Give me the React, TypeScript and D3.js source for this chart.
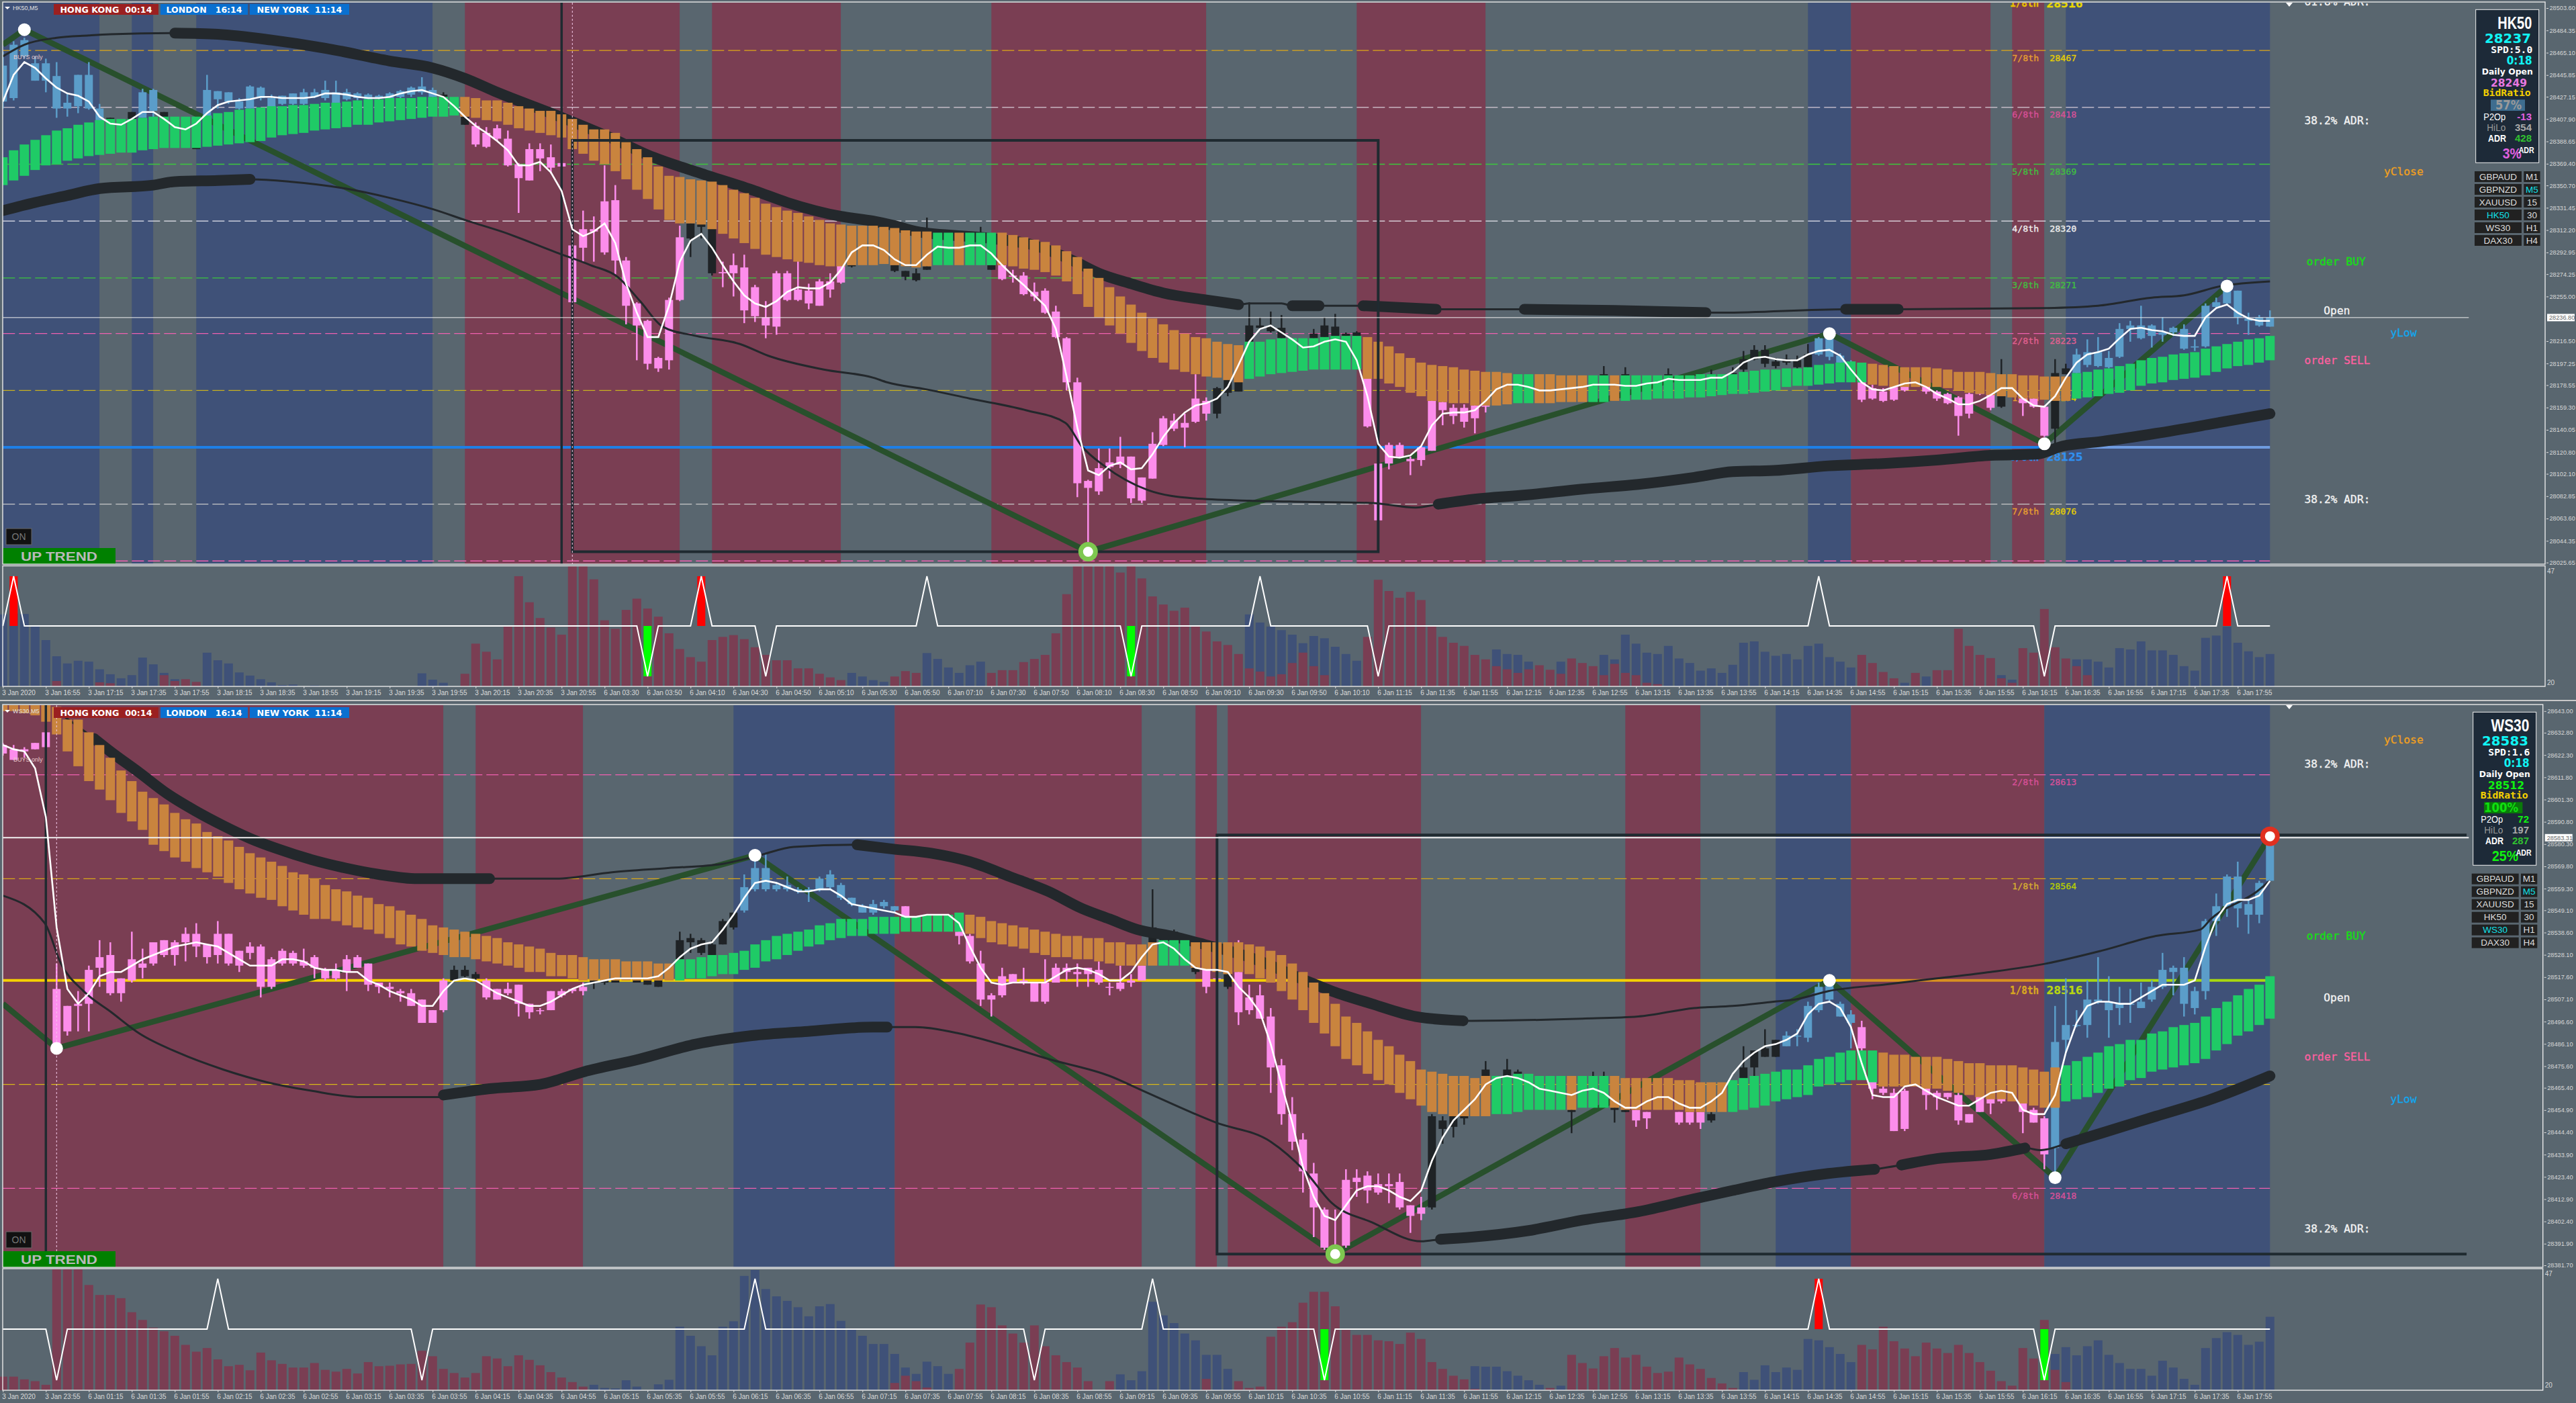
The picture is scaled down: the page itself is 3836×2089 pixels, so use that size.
import React, { useRef, useEffect } from 'react';
import * as d3 from 'd3';

// all prices below are stored as offset from 28000
const BASE = 28000;

const hkTimes = ['3 Jan 2020', '3 Jan 16:55', '3 Jan 17:15', '3 Jan 17:35', '3 Jan 17:55', '3 Jan 18:15', '3 Jan 18:35', '3 Jan 18:55', '3 Jan 19:15', '3 Jan 19:35', '3 Jan 19:55', '3 Jan 20:15', '3 Jan 20:35', '3 Jan 20:55', '6 Jan 03:30', '6 Jan 03:50', '6 Jan 04:10', '6 Jan 04:30', '6 Jan 04:50', '6 Jan 05:10', '6 Jan 05:30', '6 Jan 05:50', '6 Jan 07:10', '6 Jan 07:30', '6 Jan 07:50', '6 Jan 08:10', '6 Jan 08:30', '6 Jan 08:50', '6 Jan 09:10', '6 Jan 09:30', '6 Jan 09:50', '6 Jan 10:10', '6 Jan 11:15', '6 Jan 11:35', '6 Jan 11:55', '6 Jan 12:15', '6 Jan 12:35', '6 Jan 12:55', '6 Jan 13:15', '6 Jan 13:35', '6 Jan 13:55', '6 Jan 14:15', '6 Jan 14:35', '6 Jan 14:55', '6 Jan 15:15', '6 Jan 15:35', '6 Jan 15:55', '6 Jan 16:15', '6 Jan 16:35', '6 Jan 16:55', '6 Jan 17:15', '6 Jan 17:35', '6 Jan 17:55'];
const wsTimes = ['3 Jan 2020', '3 Jan 23:55', '6 Jan 01:15', '6 Jan 01:35', '6 Jan 01:55', '6 Jan 02:15', '6 Jan 02:35', '6 Jan 02:55', '6 Jan 03:15', '6 Jan 03:35', '6 Jan 03:55', '6 Jan 04:15', '6 Jan 04:35', '6 Jan 04:55', '6 Jan 05:15', '6 Jan 05:35', '6 Jan 05:55', '6 Jan 06:15', '6 Jan 06:35', '6 Jan 06:55', '6 Jan 07:15', '6 Jan 07:35', '6 Jan 07:55', '6 Jan 08:15', '6 Jan 08:35', '6 Jan 08:55', '6 Jan 09:15', '6 Jan 09:35', '6 Jan 09:55', '6 Jan 10:15', '6 Jan 10:35', '6 Jan 10:55', '6 Jan 11:15', '6 Jan 11:35', '6 Jan 11:55', '6 Jan 12:15', '6 Jan 12:35', '6 Jan 12:55', '6 Jan 13:15', '6 Jan 13:35', '6 Jan 13:55', '6 Jan 14:15', '6 Jan 14:35', '6 Jan 14:55', '6 Jan 15:15', '6 Jan 15:35', '6 Jan 15:55', '6 Jan 16:15', '6 Jan 16:35', '6 Jan 16:55', '6 Jan 17:15', '6 Jan 17:35', '6 Jan 17:55'];

const hkAxis = [28503.6, 28484.35, 28465.1, 28445.85, 28427.15, 28407.9, 28388.65, 28369.4, 28350.7, 28331.45, 28312.2, 28292.95, 28274.25, 28255.0, 28216.5, 28197.25, 28178.55, 28159.3, 28140.05, 28120.8, 28102.1, 28082.85, 28063.6, 28044.35, 28025.65];
const wsAxis = [28643.0, 28632.8, 28622.3, 28611.8, 28601.3, 28590.8, 28580.3, 28569.8, 28559.3, 28549.1, 28538.6, 28528.1, 28517.6, 28507.1, 28496.6, 28486.1, 28475.6, 28465.4, 28454.9, 28444.4, 28433.9, 28423.4, 28412.9, 28402.4, 28391.9, 28381.7];

// sessions: [from bar, to bar, kind]
const hkSessions = [[0, 9, 'b'], [9, 12, 'g'], [12, 14, 'b'], [14, 18, 'g'], [18, 40, 'b'], [40, 43, 'g'], [43, 63, 'r'], [63, 66, 'g'], [66, 78, 'r'], [78, 92, 'g'], [92, 112, 'r'], [112, 126, 'g'], [126, 138, 'r'], [138, 168, 'g'], [168, 172, 'b'], [172, 185, 'r'], [185, 187, 'g'], [187, 190, 'r'], [190, 192, 'g'], [192, 211, 'b']];
const wsSessions = [[0, 41, 'r'], [41, 44, 'g'], [44, 54, 'r'], [54, 68, 'g'], [68, 83, 'b'], [83, 106, 'r'], [106, 111, 'g'], [111, 113, 'r'], [113, 114, 'g'], [114, 132, 'r'], [132, 151, 'g'], [151, 158, 'r'], [158, 165, 'g'], [165, 172, 'b'], [172, 190, 'r'], [190, 211, 'b']];

const hkRibbonHigh = [
  375, 381, 386, 390, 394, 398, 400, 403, 405, 407, 408, 408, 408, 409, 410, 410, 410, 410, 410, 411,
  413, 414, 416, 417, 418, 419, 419, 420, 420, 421, 422, 422, 423, 424, 425, 425, 426, 426, 426, 427,
  427, 427, 427, 427, 426, 424, 424, 422, 419, 417, 415, 415, 412, 408, 403, 399, 399, 396, 388, 382,
  375, 367, 359, 358, 356, 355, 354, 351, 347, 344, 340, 335, 332, 329, 327, 324, 321, 318, 317, 316,
  316, 316, 315, 314, 312, 311, 311, 310, 310, 310, 310, 310, 310, 310, 308, 306, 304, 302, 299, 294,
  289, 279, 271, 263, 255, 248, 241, 236, 231, 226, 223, 220, 219, 216, 214, 213, 216, 216, 218, 219,
  219, 219, 219, 220, 221, 221, 221, 220, 216, 212, 206, 202, 198, 196, 195, 194, 192, 191, 190, 190,
  189, 188, 188, 188, 188, 187, 187, 187, 187, 187, 187, 187, 187, 187, 187, 187, 187, 187, 188, 188,
  188, 188, 190, 191, 192, 192, 193, 193, 194, 196, 197, 198, 199, 198, 197, 196, 195, 194, 194, 194,
  193, 192, 190, 190, 190, 189, 188, 188, 187, 187, 186, 186, 186, 189, 190, 192, 193, 195, 197, 200,
  202, 203, 205, 206, 207, 210, 212, 214, 216, 218, 219, 221];
const hkRibbonLow = [
  351, 355, 359, 364, 368, 369, 372, 374, 376, 377, 378, 379, 379, 381, 382, 383, 383, 383, 383, 384,
  385, 386, 387, 388, 389, 392, 394, 395, 396, 398, 399, 400, 401, 403, 403, 405, 406, 407, 408, 409,
  410, 410, 411, 410, 409, 407, 406, 403, 400, 398, 396, 394, 392, 382, 378, 372, 369, 363, 356, 347,
  339, 330, 321, 318, 318, 317, 313, 309, 305, 301, 296, 291, 289, 287, 285, 284, 282, 281, 281, 282,
  282, 282, 283, 282, 281, 280, 281, 282, 282, 282, 282, 282, 282, 282, 281, 279, 278, 276, 273, 268,
  257, 246, 237, 230, 223, 215, 208, 202, 198, 192, 190, 188, 186, 185, 183, 181, 184, 186, 188, 189,
  190, 191, 192, 192, 192, 192, 192, 184, 184, 180, 177, 172, 169, 165, 164, 163, 163, 161, 161, 161,
  162, 163, 163, 163, 163, 164, 164, 164, 164, 164, 165, 165, 166, 166, 167, 167, 167, 168, 168, 169,
  170, 171, 171, 172, 173, 174, 177, 178, 178, 179, 180, 181, 181, 181, 179, 178, 177, 177, 177, 177,
  177, 176, 174, 172, 171, 170, 169, 168, 167, 167, 166, 165, 165, 167, 168, 169, 171, 172, 174, 178,
  180, 181, 183, 184, 185, 187, 190, 193, 195, 196, 198, 200];
const hkRibbonGreen = [[0, 42], [87, 88], [90, 92], [116, 126], [141, 142], [148, 149], [151, 173], [193, 211]];

const wsRibbonHigh = [
  646, 646, 646, 646, 646, 645, 639, 639, 633, 627, 621, 615, 610, 605, 602, 599, 595, 592, 590, 586,
  584, 582, 579, 576, 574, 572, 570, 567, 566, 564, 561, 559, 558, 556, 555, 552, 551, 549, 547, 545,
  542, 541, 540, 539, 538, 537, 536, 534, 533, 532, 531, 529, 528, 528, 527, 526, 526, 526, 525, 525,
  525, 524, 524, 526, 526, 527, 528, 528, 529, 530, 533, 535, 537, 538, 539, 540, 542, 543, 545, 545,
  545, 546, 546, 546, 546, 546, 547, 547, 547, 548, 547, 546, 544, 543, 542, 541, 540, 539, 538, 537,
  537, 536, 536, 534, 534, 533, 533, 534, 535, 535, 535, 534, 534, 534, 534, 534, 533, 532, 530, 528,
  524, 520, 515, 510, 505, 499, 496, 492, 488, 485, 481, 478, 474, 473, 472, 471, 471, 470, 471, 471,
  471, 472, 472, 471, 471, 471, 471, 471, 471, 471, 471, 470, 470, 470, 470, 470, 469, 469, 468, 468,
  468, 469, 470, 471, 472, 473, 474, 474, 476, 479, 480, 482, 483, 483, 483, 482, 481, 481, 480, 480,
  480, 479, 478, 477, 477, 476, 476, 476, 475, 474, 473, 475, 476, 478, 480, 482, 485, 486, 488, 488,
  491, 492, 494, 495, 496, 499, 503, 506, 509, 512, 514, 518];
const wsRibbonLow = [
  643, 643, 642, 641, 638, 632, 624, 617, 610, 606, 601, 595, 591, 587, 580, 577, 574, 572, 569, 567,
  565, 562, 559, 557, 555, 554, 551, 549, 547, 545, 545, 544, 542, 541, 540, 538, 536, 533, 532, 530,
  529, 528, 527, 527, 526, 525, 524, 523, 522, 520, 520, 518, 518, 517, 516, 516, 516, 516, 516, 516,
  516, 516, 516, 516, 517, 517, 518, 519, 519, 521, 522, 525, 526, 528, 530, 532, 533, 535, 536, 537,
  537, 538, 538, 538, 539, 539, 539, 539, 539, 539, 538, 536, 534, 533, 532, 531, 529, 528, 527, 527,
  526, 526, 525, 524, 523, 523, 523, 523, 523, 523, 523, 522, 521, 520, 519, 520, 519, 517, 515, 511,
  507, 502, 496, 491, 485, 479, 476, 472, 469, 467, 463, 460, 457, 454, 453, 452, 452, 452, 452, 453,
  453, 454, 455, 455, 455, 455, 455, 456, 456, 456, 456, 455, 455, 455, 455, 455, 455, 454, 454, 454,
  454, 454, 455, 456, 457, 459, 460, 461, 462, 466, 467, 468, 469, 469, 468, 466, 466, 466, 466, 465,
  465, 464, 463, 462, 461, 460, 460, 459, 458, 457, 456, 456, 459, 460, 461, 463, 465, 466, 469, 470,
  473, 474, 475, 476, 477, 479, 483, 486, 490, 492, 495, 498];
const wsRibbonGreen = [[63, 89], [108, 110], [139, 145], [147, 149], [161, 174], [192, 211]];

// smoothed close, one value per bar
const hkSmooth = [
  423, 446, 457, 452, 443, 435, 430, 428, 423, 410, 404, 403, 408, 414, 414, 408, 401, 399, 404, 413,
  420, 423, 424, 425, 427, 427, 426, 426, 426, 427, 430, 430, 429, 427, 426, 426, 427, 430, 432, 433,
  430, 427, 419, 410, 402, 396, 389, 381, 368, 368, 371, 362, 346, 313, 307, 311, 318, 301, 266, 241,
  220, 220, 247, 285, 303, 309, 297, 282, 268, 256, 249, 246, 251, 259, 263, 262, 262, 267, 278, 293,
  299, 299, 295, 287, 282, 282, 291, 298, 297, 297, 299, 299, 292, 282, 273, 265, 256, 247, 227, 186,
  142, 105, 101, 109, 112, 106, 107, 119, 134, 146, 155, 161, 163, 167, 177, 196, 216, 227, 230, 224,
  218, 211, 212, 216, 218, 216, 200, 169, 128, 117, 116, 118, 126, 144, 154, 155, 155, 157, 165, 175,
  179, 179, 177, 174, 174, 175, 176, 177, 179, 179, 179, 178, 178, 180, 181, 184, 183, 183, 183, 185,
  185, 190, 198, 202, 203, 201, 200, 200, 205, 208, 209, 204, 192, 181, 175, 174, 177, 180, 181, 177,
  171, 167, 162, 162, 165, 170, 176, 176, 167, 161, 160, 169, 185, 198, 205, 207, 210, 219, 227, 228,
  226, 225, 222, 221, 221, 237, 245, 248, 241, 236, 234, 234];
const wsSmooth = [
  627, 625, 624, 616, 593, 541, 512, 505, 510, 518, 520, 520, 523, 526, 528, 530, 532, 533, 534, 533,
  532, 529, 526, 523, 523, 523, 526, 526, 525, 522, 521, 521, 520, 520, 516, 514, 511, 509, 507, 504,
  504, 511, 516, 517, 516, 513, 510, 508, 506, 504, 504, 506, 509, 512, 514, 515, 516, 517, 517, 517,
  517, 518, 522, 527, 531, 533, 534, 540, 547, 555, 562, 563, 562, 560, 558, 558, 559, 559, 556, 552,
  551, 550, 549, 548, 546, 546, 547, 547, 547, 543, 532, 522, 515, 514, 515, 515, 515, 515, 518, 521,
  522, 521, 519, 516, 516, 520, 527, 533, 534, 531, 526, 522, 521, 521, 520, 513, 508, 501, 486, 467,
  449, 428, 414, 405, 403, 410, 417, 419, 419, 417, 414, 412, 417, 431, 442, 450, 455, 460, 467, 470,
  471, 470, 468, 465, 464, 463, 462, 464, 465, 463, 459, 456, 456, 459, 461, 461, 458, 456, 456, 459,
  463, 472, 478, 482, 485, 486, 488, 491, 500, 505, 506, 503, 494, 477, 462, 461, 461, 466, 467, 464,
  461, 459, 457, 457, 460, 463, 464, 463, 455, 453, 453, 462, 482, 496, 504, 506, 506, 505, 505, 508,
  511, 514, 514, 514, 516, 532, 545, 552, 554, 554, 556, 563];

// candles: [bar, high, body top, body bottom, low]
const hkBull = [[0, 466, 454, 423, 417], [1, 475, 472, 426, 424], [2, 478, 476, 462, 460], [3, 462, 456, 441, 441], [4, 460, 456, 441, 431], [5, 457, 445, 417, 409], [6, 430, 422, 417, 410], [7, 446, 446, 419, 413], [8, 457, 446, 417, 416], [9, 421, 417, 407, 406], [13, 434, 431, 409, 409], [14, 434, 433, 415, 409], [19, 446, 433, 410, 406], [20, 432, 432, 425, 417], [21, 431, 431, 423, 421], [22, 426, 423, 417, 416], [23, 437, 436, 417, 417], [24, 436, 435, 426, 424], [25, 429, 426, 418, 417], [26, 428, 428, 421, 420], [27, 430, 430, 421, 420], [28, 434, 431, 421, 420], [29, 434, 431, 427, 426], [30, 441, 433, 426, 424], [31, 441, 431, 422, 421], [32, 434, 431, 425, 424], [33, 431, 430, 426, 424], [34, 430, 429, 425, 424], [35, 429, 428, 426, 425], [36, 431, 430, 426, 425], [37, 433, 432, 427, 426], [38, 436, 435, 429, 427], [39, 444, 436, 431, 429], [40, 435, 433, 427, 426],
  [169, 220, 219, 205, 204], [170, 221, 220, 203, 200], [171, 206, 204, 198, 198], [172, 200, 198, 193, 192], [193, 210, 205, 189, 188], [194, 218, 207, 196, 194], [195, 220, 207, 195, 194], [196, 208, 202, 194, 193], [197, 232, 227, 203, 202], [198, 234, 230, 227, 216], [199, 247, 230, 219, 218], [200, 231, 230, 221, 211], [201, 237, 224, 222, 216], [202, 229, 228, 224, 221], [203, 231, 227, 210, 209], [204, 218, 212, 211, 208], [205, 249, 247, 212, 211], [206, 254, 250, 246, 245], [207, 262, 262, 249, 247], [208, 260, 260, 237, 231], [209, 241, 236, 234, 222], [210, 239, 237, 230, 229], [211, 243, 237, 229, 229]];
const hkFlat = [[10, 409, 409, 406, 405], [12, 414, 414, 408, 408], [15, 414, 414, 409, 409], [18, 386, 386, 382, 382], [41, 431, 429, 427, 426], [43, 412, 410, 403, 403], [64, 318, 318, 305, 289], [65, 318, 318, 315, 305], [66, 316, 316, 275, 273], [79, 282, 282, 281, 280], [83, 282, 282, 277, 276], [84, 277, 277, 272, 269], [85, 279, 275, 269, 268], [86, 323, 281, 278, 278], [87, 313, 312, 311, 311], [91, 315, 310, 309, 309], [92, 282, 282, 278, 278], [113, 177, 176, 154, 150], [114, 183, 183, 172, 169], [115, 183, 183, 173, 173], [116, 250, 230, 216, 215], [117, 237, 230, 228, 226], [118, 242, 229, 225, 224], [119, 239, 228, 219, 218], [122, 227, 223, 219, 219], [123, 237, 230, 220, 219], [124, 240, 229, 220, 219], [125, 224, 223, 221, 221], [126, 225, 224, 221, 221], [149, 195, 188, 185, 185], [151, 194, 188, 185, 185], [155, 193, 188, 185, 185], [159, 192, 188, 185, 185], [161, 194, 189, 186, 185], [162, 208, 201, 192, 186], [163, 213, 209, 201, 200], [164, 213, 209, 197, 194], [165, 202, 199, 195, 193], [166, 205, 201, 198, 196], [167, 204, 200, 194, 193], [168, 214, 205, 194, 193], [186, 201, 171, 160, 159], [191, 201, 189, 141, 128], [192, 197, 193, 188, 188]];
const hkBear = [[44, 405, 402, 386, 384], [45, 401, 396, 384, 383], [46, 403, 400, 391, 389], [47, 398, 391, 368, 367], [48, 370, 369, 357, 327], [49, 387, 382, 355, 355], [50, 387, 382, 374, 363], [51, 386, 375, 366, 361], [52, 370, 370, 367, 366], [53, 299, 299, 250, 250], [54, 329, 313, 297, 285], [55, 324, 313, 311, 285], [56, 368, 337, 293, 291], [57, 351, 338, 286, 274], [58, 289, 286, 247, 231], [59, 250, 249, 230, 200], [60, 235, 234, 197, 192], [61, 203, 202, 193, 190], [62, 254, 252, 200, 192], [63, 316, 306, 252, 251], [67, 285, 276, 275, 263], [68, 292, 282, 275, 255], [69, 291, 280, 243, 232], [70, 265, 263, 238, 233], [71, 251, 237, 230, 219], [72, 277, 275, 229, 222], [73, 277, 275, 252, 251], [74, 286, 261, 252, 251], [75, 266, 260, 249, 244], [76, 270, 268, 247, 247], [77, 275, 268, 261, 254], [78, 283, 282, 267, 266],
  [93, 282, 282, 270, 269], [94, 278, 273, 272, 267], [95, 276, 273, 257, 256], [96, 267, 259, 255, 251], [97, 262, 260, 241, 240], [98, 247, 242, 220, 219], [99, 220, 219, 181, 174], [100, 185, 181, 94, 82], [101, 97, 96, 90, 43], [102, 124, 107, 87, 84], [103, 124, 112, 108, 98], [104, 134, 117, 110, 107], [105, 117, 117, 81, 77], [106, 99, 99, 79, 77], [107, 138, 128, 98, 98], [108, 152, 150, 127, 126], [109, 154, 148, 141, 139], [110, 154, 146, 142, 125], [111, 188, 167, 147, 146], [112, 168, 165, 154, 148], [127, 192, 190, 143, 142], [128, 111, 111, 62, 62], [129, 129, 127, 111, 106], [130, 129, 127, 117, 116], [131, 117, 115, 113, 101], [132, 126, 125, 114, 109], [133, 166, 165, 122, 122], [134, 167, 164, 157, 144], [135, 162, 159, 152, 145], [136, 162, 159, 147, 142], [137, 163, 161, 150, 137], [138, 162, 161, 160, 155],
  [173, 183, 181, 166, 164], [174, 179, 176, 167, 166], [175, 176, 173, 165, 164], [176, 178, 177, 166, 165], [177, 181, 179, 174, 173], [179, 179, 178, 173, 171], [180, 174, 173, 167, 165], [181, 172, 171, 163, 162], [182, 169, 168, 152, 135], [183, 173, 171, 154, 150], [184, 173, 172, 171, 170], [185, 172, 171, 159, 157], [188, 171, 169, 163, 152], [189, 169, 167, 160, 159], [190, 161, 160, 135, 134]];

const wsBull = [[69, 566, 560, 549, 548], [70, 575, 569, 559, 558], [71, 576, 569, 559, 558], [72, 562, 561, 559, 558], [73, 565, 561, 559, 558], [74, 560, 559, 558, 557], [75, 560, 559, 558, 553], [76, 565, 564, 559, 558], [77, 568, 566, 560, 559], [78, 562, 561, 555, 554], [79, 555, 555, 552, 551], [80, 552, 551, 548, 548], [81, 554, 552, 548, 547], [82, 554, 553, 551, 550], [83, 551, 551, 549, 548], [166, 492, 490, 485, 485], [167, 493, 490, 490, 485], [168, 506, 504, 489, 487], [169, 515, 513, 502, 501], [170, 517, 515, 507, 506], [171, 506, 505, 499, 499], [172, 502, 500, 496, 484], [191, 504, 487, 437, 426], [192, 517, 495, 488, 482], [193, 502, 495, 495, 494], [194, 516, 507, 495, 489], [195, 527, 507, 506, 505], [196, 518, 506, 502, 489], [197, 513, 505, 503, 495], [198, 512, 505, 505, 496], [199, 515, 506, 503, 503], [200, 516, 513, 507, 506], [201, 529, 521, 513, 512], [202, 523, 522, 520, 509], [203, 527, 522, 505, 499], [204, 513, 511, 503, 500], [205, 545, 544, 511, 507], [206, 557, 551, 544, 537], [207, 566, 565, 551, 546], [208, 572, 565, 550, 541], [209, 554, 552, 547, 538], [210, 563, 562, 547, 543], [211, 584, 583, 563, 563]];
const wsFlat = [[42, 523, 521, 516, 516], [43, 523, 521, 518, 517], [44, 520, 519, 517, 516], [55, 517, 516, 515, 512], [56, 516, 516, 515, 514], [57, 516, 516, 515, 515], [59, 516, 516, 515, 515], [60, 516, 516, 514, 514], [61, 516, 516, 513, 513], [63, 539, 535, 526, 525], [64, 538, 536, 534, 529], [65, 536, 535, 529, 528], [66, 535, 533, 528, 527], [67, 545, 544, 533, 533], [68, 548, 548, 541, 540], [107, 559, 541, 534, 534], [108, 539, 539, 534, 534], [109, 540, 539, 535, 535], [111, 523, 522, 520, 519], [114, 520, 519, 513, 512], [133, 453, 452, 409, 408], [134, 452, 450, 446, 439], [135, 453, 452, 447, 442], [136, 452, 452, 451, 448], [138, 478, 474, 471, 471], [140, 479, 474, 471, 471], [141, 474, 473, 471, 471], [146, 471, 455, 454, 444], [148, 473, 471, 470, 469], [149, 473, 471, 470, 469], [150, 471, 456, 455, 449], [151, 470, 455, 454, 454], [159, 454, 453, 450, 449], [162, 485, 475, 469, 469], [163, 483, 483, 475, 469], [164, 493, 484, 480, 480], [165, 488, 488, 480, 480]];
const wsBear = [[0, 628, 627, 623, 622], [1, 627, 625, 620, 620], [2, 626, 625, 624, 621], [3, 628, 628, 625, 625], [4, 633, 633, 626, 626], [5, 524, 512, 486, 485], [6, 504, 504, 492, 490], [7, 511, 505, 504, 492], [8, 523, 521, 505, 492], [9, 535, 527, 522, 513], [10, 534, 528, 510, 509], [11, 517, 517, 510, 506], [12, 539, 526, 516, 515], [13, 531, 524, 522, 517], [14, 534, 534, 524, 523], [15, 535, 535, 528, 527], [16, 535, 534, 528, 523], [17, 541, 538, 534, 525], [18, 543, 538, 532, 527], [19, 533, 533, 527, 524], [20, 544, 538, 528, 524], [21, 538, 538, 524, 523], [22, 530, 530, 523, 520], [23, 534, 532, 529, 526], [24, 533, 532, 513, 508], [25, 527, 526, 513, 512], [26, 531, 530, 524, 523], [27, 530, 529, 524, 523], [28, 531, 525, 523, 522], [29, 528, 527, 522, 517], [30, 522, 521, 517, 516], [31, 524, 521, 517, 516], [32, 528, 526, 520, 511], [33, 528, 527, 522, 522], [34, 524, 524, 514, 511], [35, 515, 515, 513, 510], [36, 515, 513, 512, 508], [37, 512, 511, 510, 506], [38, 512, 510, 504, 504], [39, 507, 507, 496, 496], [40, 502, 502, 496, 496], [41, 517, 516, 502, 501], [45, 517, 516, 508, 507], [46, 512, 512, 507, 507], [47, 515, 512, 510, 509], [48, 514, 514, 505, 499], [49, 505, 505, 501, 498], [50, 503, 502, 502, 500], [51, 511, 511, 502, 502], [52, 512, 511, 509, 508], [53, 512, 512, 511, 510], [54, 515, 513, 511, 509],
  [84, 551, 551, 546, 546], [89, 539, 539, 537, 533], [90, 538, 537, 525, 524], [91, 530, 524, 507, 504], [92, 510, 509, 507, 499], [93, 522, 518, 509, 508], [94, 519, 519, 515, 515], [95, 522, 516, 515, 514], [96, 515, 515, 506, 506], [97, 526, 515, 506, 505], [98, 524, 522, 515, 515], [99, 524, 522, 520, 516], [100, 524, 520, 519, 513], [101, 522, 522, 519, 513], [102, 525, 521, 515, 514], [103, 515, 513, 513, 509], [104, 523, 515, 512, 511], [105, 519, 516, 515, 513], [106, 523, 523, 516, 516], [112, 522, 522, 513, 510], [113, 519, 517, 517, 513], [115, 535, 520, 501, 495], [116, 514, 508, 502, 500], [117, 514, 509, 498, 498], [118, 503, 499, 475, 463], [119, 479, 476, 453, 448], [120, 461, 453, 440, 436], [121, 444, 441, 426, 416], [122, 430, 425, 409, 395], [123, 409, 408, 390, 389], [124, 408, 391, 390, 389], [125, 427, 422, 391, 390], [126, 427, 423, 421, 414], [127, 426, 424, 417, 411], [128, 425, 420, 416, 415], [129, 425, 420, 419, 411], [130, 425, 421, 409, 408], [131, 410, 410, 405, 397], [132, 414, 409, 406, 403],
  [152, 455, 455, 450, 447], [153, 454, 454, 451, 446], [156, 454, 454, 449, 448], [157, 454, 454, 449, 448], [158, 454, 454, 449, 446], [173, 497, 494, 484, 478], [174, 469, 469, 465, 460], [175, 467, 465, 463, 462], [176, 465, 463, 445, 445], [177, 465, 464, 446, 445], [179, 467, 465, 462, 455], [180, 464, 463, 461, 455], [181, 463, 463, 461, 460], [182, 463, 462, 450, 448], [183, 453, 453, 449, 449], [184, 462, 462, 454, 454], [185, 461, 461, 458, 453], [186, 462, 461, 459, 458], [188, 461, 460, 454, 444], [189, 456, 455, 449, 449], [190, 452, 451, 434, 427]];

// moving averages: [bar, price]; thick stretches are bar ranges
const hkUpperMa = [[0, 462], [2, 472], [5, 478], [8, 480], [10, 481], [16, 482], [20, 481], [25, 476], [30, 469], [36, 458], [40, 452], [43, 443], [46, 431], [51, 413], [57, 390], [60, 377], [65, 361], [70, 346], [73, 336], [78, 324], [81, 320], [83, 316], [85, 311], [92, 305], [96, 299], [100, 284], [102, 275], [105, 266], [108, 258], [112, 252], [115, 248], [116, 249], [119, 249], [120, 247], [122.5, 247], [126.6, 247], [133.4, 244], [141.6, 244], [150, 243], [158.5, 241], [160, 241], [171.5, 244], [176.4, 244], [190, 245], [195, 247], [200, 254], [203, 256], [206.5, 264], [211, 268]];
const hkUpperThick = [[16, 115], [120, 122.5], [126.6, 133.4], [141.6, 158.5], [171.5, 176.4]];
const hkLowerMa = [[0, 329], [3, 336], [6, 342], [9, 348], [14, 351], [16, 354], [20, 355], [23, 356], [26.7, 354], [31.9, 348], [36, 340], [40.1, 330], [43.3, 320], [46.4, 311], [51.5, 293], [54.7, 282], [57.2, 272], [59.3, 251], [61.4, 229], [64.5, 221], [68.6, 214], [71.2, 204], [76.4, 192], [81, 185], [82.3, 181], [85.9, 175], [90, 167], [95.2, 157], [98.9, 146], [100.4, 126], [102.5, 109], [106.6, 88], [110.8, 81], [116, 79], [121.2, 78], [127.4, 77], [131.5, 73], [133.6, 76], [136.7, 80], [141.9, 84], [147, 89], [152.2, 93], [157.4, 99], [161, 104], [164.8, 105], [169.9, 109], [175, 111], [180, 114], [185, 118], [189.2, 119], [191.7, 126], [195.3, 130], [200.4, 137], [205.5, 145], [211, 154]];
const hkLowerThick = [[0, 23], [133.6, 211]];
const wsUpperMa = [[5, 643], [8.5, 630], [10, 624], [12.7, 614], [15.3, 604], [17.9, 596], [20.5, 589], [23, 583], [25.6, 578], [28.7, 573], [31.9, 569], [35, 566], [38.6, 564], [41.2, 564], [45.3, 564], [51.5, 564], [56.7, 567], [61.9, 569], [67, 571], [70.4, 575], [73.6, 579], [79.5, 580], [82.8, 578], [86.4, 576], [90, 572], [93.7, 565], [97.3, 558], [100.4, 550], [103, 545], [105.6, 540], [108.7, 537], [111.8, 533], [116, 527], [121.7, 515], [123.7, 511], [127.4, 505], [131.5, 499], [135.9, 497], [136.7, 497], [147, 498], [152.2, 499], [157.4, 503], [161, 504], [164.8, 506], [166.8, 507], [169.9, 511], [175, 514], [180, 517], [185, 520], [190.2, 524], [195.3, 530], [200.4, 537], [204.5, 540], [205.5, 545], [209.8, 558], [211, 563]];
const wsUpperThick = [[8.5, 45.3], [79.5, 135.9]];
const wsLowerMa = [[0, 556], [3.9, 543], [5.4, 524], [7.5, 511], [10.1, 501], [12.7, 491], [16.3, 482], [20.5, 474], [24.6, 468], [28.7, 464], [33.4, 461], [40.7, 461], [41, 462], [45.3, 465], [50, 467], [54.1, 473], [59.3, 479], [64.5, 486], [69.7, 490], [74.9, 492], [81, 494], [82.3, 494], [84.9, 494], [89, 491], [92.1, 487], [97.3, 479], [103, 471], [106.1, 464], [112.9, 449], [118, 440], [121.2, 426], [123.7, 411], [127.4, 402], [132, 393], [133.8, 394], [136.7, 395], [141.9, 398], [147, 403], [152.2, 407], [157.4, 413], [161, 417], [164.8, 421], [169.9, 425], [174.2, 427], [176.7, 429], [180, 432], [185, 434], [188.2, 437], [189.7, 436], [192, 439], [195.3, 444], [200.4, 452], [205.5, 460], [211, 471]];
const wsLowerThick = [[41, 82.3], [133.8, 174.2], [176.7, 188.2], [192, 211]];

const hkZigzag = [[0, 472], [2, 485], [101, 35], [170, 223], [190, 128], [207, 264]];
const wsZigzag = [[0, 505], [5, 484], [70, 575], [124, 387], [170, 516], [191, 423], [211, 584]];
// swing markers: [bar, price, kind]
const hkSwings = [[2, 485, 'w'], [101, 35, 'g'], [170, 223, 'w'], [190, 128, 'w'], [207, 264, 'w']];
const wsSwings = [[5, 484, 'w'], [70, 575, 'w'], [124, 387, 'g'], [170, 516, 'w'], [191, 423, 'w'], [211, 584, 'r']];

// volume histogram
const hkVolBuy = [
  160, 162, 161, 133, 103, 67, 51, 57, 55, 38, 27, 18, 25, 64, 49, 30, 16, 0, 0, 75,
  58, 51, 31, 24, 16, 9, 3, 4, 0, 2, 0, 0, 0, 0, 0, 0, 0, 0, 0, 29,
  15, 8, 0, 0, 0, 0, 0, 0, 0, 0, 0, 0, 0, 0, 0, 0, 0, 0, 0, 0,
  0, 0, 0, 0, 0, 0, 0, 0, 0, 0, 0, 0, 0, 0, 0, 0, 0, 0, 0, 30,
  22, 14, 10, 0, 0, 0, 74, 61, 42, 30, 47, 55, 0, 0, 0, 0, 0, 0, 0, 0,
  0, 0, 0, 0, 0, 0, 0, 0, 0, 0, 0, 0, 0, 0, 0, 0, 160, 142, 133, 125,
  115, 96, 112, 107, 88, 72, 57, 0, 0, 0, 0, 0, 0, 0, 0, 0, 0, 0, 0, 82,
  72, 70, 55, 0, 0, 55, 0, 0, 0, 70, 60, 115, 95, 75, 72, 90, 62, 52, 35, 40,
  30, 48, 97, 100, 77, 68, 72, 60, 90, 95, 65, 55, 42, 0, 0, 0, 0, 8, 0, 22,
  0, 0, 0, 0, 0, 0, 25, 15, 0, 0, 0, 0, 0, 60, 60, 55, 42, 85, 82, 100,
  80, 80, 70, 45, 35, 108, 113, 133, 97, 78, 65, 72];
const hkVolSell = [
  0, 0, 0, 0, 0, 12, 0, 0, 0, 9, 7, 1, 0, 0, 0, 25, 12, 16, 10, 0,
  0, 0, 0, 0, 0, 0, 0, 0, 0, 0, 0, 0, 0, 0, 0, 0, 0, 0, 0, 0,
  0, 0, 0, 28, 95, 77, 60, 133, 245, 187, 152, 131, 115, 267, 267, 238, 147, 128, 170, 195,
  173, 155, 118, 83, 65, 55, 103, 110, 114, 105, 87, 70, 58, 58, 40, 40, 28, 20, 14, 0,
  0, 0, 0, 22, 34, 30, 0, 0, 0, 0, 0, 0, 30, 36, 36, 54, 61, 70, 118, 205,
  267, 267, 267, 267, 253, 267, 240, 200, 182, 168, 175, 133, 122, 100, 92, 72, 40, 33, 22, 27,
  52, 75, 45, 25, 0, 0, 0, 110, 237, 212, 197, 210, 192, 135, 110, 97, 90, 70, 60, 45,
  38, 30, 38, 47, 37, 28, 62, 52, 45, 25, 50, 30, 25, 8, 5, 0, 0, 0, 0, 0,
  0, 0, 0, 0, 0, 0, 0, 0, 0, 0, 0, 0, 0, 70, 52, 32, 18, 0, 30, 0,
  36, 36, 128, 90, 70, 63, 18, 8, 85, 75, 172, 87, 62, 45, 25, 0, 0, 0, 0, 0,
  0, 0, 0, 0, 0, 0, 0, 0, 0, 0, 0, 0];
const wsVolBuy = [
  0, 0, 0, 0, 0, 0, 0, 0, 0, 0, 0, 0, 0, 0, 0, 0, 0, 0, 0, 0,
  0, 0, 0, 0, 0, 0, 0, 0, 0, 0, 0, 0, 0, 0, 0, 0, 0, 0, 0, 0,
  0, 0, 0, 0, 0, 0, 0, 0, 0, 0, 0, 0, 0, 0, 0, 12, 5, 4, 22, 8,
  0, 13, 23, 140, 120, 97, 77, 140, 152, 252, 265, 223, 207, 197, 183, 163, 185, 190, 153, 135,
  120, 102, 102, 80, 50, 36, 63, 53, 36, 0, 0, 0, 0, 0, 0, 0, 0, 0, 0, 0,
  0, 0, 0, 0, 35, 22, 42, 195, 165, 148, 125, 110, 78, 78, 47, 0, 0, 0, 0, 0,
  0, 0, 0, 0, 0, 0, 0, 0, 0, 0, 0, 0, 0, 0, 0, 0, 0, 53, 52, 52,
  42, 32, 22, 12, 0, 10, 0, 0, 0, 0, 0, 0, 0, 0, 0, 0, 0, 0, 0, 0,
  0, 0, 40, 23, 55, 40, 50, 45, 113, 110, 95, 80, 62, 0, 0, 0, 0, 0, 0, 0,
  0, 0, 0, 0, 0, 0, 0, 0, 0, 0, 0, 80, 95, 77, 97, 110, 78, 60, 47, 47,
  32, 65, 50, 25, 12, 93, 115, 128, 122, 100, 107, 162];
const wsVolSell = [
  30, 30, 24, 20, 12, 267, 267, 267, 232, 210, 210, 203, 172, 155, 138, 130, 120, 100, 85, 93,
  68, 53, 56, 44, 83, 66, 58, 50, 50, 60, 45, 41, 47, 37, 62, 53, 54, 57, 58, 87,
  75, 47, 38, 28, 38, 75, 70, 53, 77, 67, 55, 40, 28, 18, 8, 0, 0, 0, 0, 0,
  0, 0, 0, 0, 0, 0, 0, 0, 0, 0, 0, 0, 0, 0, 0, 0, 0, 0, 0, 0,
  0, 0, 0, 16, 32, 20, 6, 0, 0, 47, 105, 189, 183, 143, 125, 105, 143, 97, 77, 62,
  50, 20, 0, 20, 0, 0, 0, 0, 0, 0, 0, 0, 25, 0, 0, 20, 5, 8, 118, 140,
  150, 193, 217, 217, 185, 133, 122, 122, 110, 108, 102, 127, 113, 62, 47, 32, 24, 3, 0, 0,
  0, 0, 0, 0, 5, 0, 78, 60, 48, 75, 93, 72, 78, 52, 38, 41, 72, 57, 47, 27,
  15, 5, 0, 0, 0, 0, 0, 0, 0, 0, 0, 0, 0, 100, 90, 140, 108, 92, 75, 105,
  92, 82, 100, 82, 62, 43, 20, 10, 93, 70, 155, 45, 18, 0, 0, 0, 0, 0, 0, 0,
  0, 0, 0, 0, 0, 0, 0, 0, 0, 0, 0, 0];

const hkSpikesUp = [1, 65, 86, 117, 169, 207];
const hkSpikesDown = [60, 71, 105, 128, 190];
const hkBlockRed = [1, 65, 207];
const hkBlockGreen = [60, 105];
const wsSpikesUp = [20, 70, 107, 169];
const wsSpikesDown = [5, 39, 96, 123, 190];
const wsBlockRed = [169];
const wsBlockGreen = [123, 190];

// murrey levels: [price, line colour, name, name colour, value colour]
const hkLevels = [
  [516, '', '1/8th', '#e8c000', '#e8d800'],
  [467, '#e0a818', '7/8th', '#e8a030', '#e8d000'],
  [418, '#d8ccd8', '6/8th', '#d85098', '#d85098'],
  [369, '#3cc83c', '5/8th', '#40c040', '#40c040'],
  [320, '#e8e8f0', '4/8th', '#f0f0f0', '#f0f0f0'],
  [271, '#3cc83c', '3/8th', '#40c040', '#40c040'],
  [223, '#f060b0', '2/8th', '#e06090', '#e06090'],
  [174, '#c8b020', '1/8th', '#e8a030', '#d8d000'],
  [125, '', '0/8th', '#3090f0', '#3090f0'],
  [76, '#c8c8c8', '7/8th', '#e8a030', '#e8d000'],
  [27, '#f060b0', '6/8th', '#d85098', '#d85098']];
const wsLevels = [
  [613, '#f060b0', '2/8th', '#d85098', '#d85098'],
  [564, '#d8a818', '1/8th', '#d8b030', '#b8d000'],
  [516, '', '1/8th', '#d8a820', '#b8d810'],
  [467, '#d8b818', '', '', ''],
  [418, '#f060b0', '6/8th', '#d85098', '#d85098']];
// solid level stretches: [price, from bar, to bar, colour]
const hkSolid = [[125, 0, 192, '#1e7fe6'], [125, 192, 211, '#6f9be0']];
const wsSolid = [[516, 0, 172, '#f5d000'], [516, 172, 190, '#d89020'], [516, 190, 211, '#a8d810']];

// side notes: [text, bar, price, colour]
const hkNotes = [['61.8% ADR:', 214.2, 509, '#f4f4f4'], ['38.2% ADR:', 214.2, 407, '#f4f4f4'], ['yClose', 221.6, 363, '#f0a020'], ['order BUY', 214.4, 285, '#14e014'], ['Open', 216, 243, '#f4f4f4'], ['yLow', 222.2, 224, '#10a8f0'], ['order SELL', 214.2, 200, '#ff60a0'], ['38.2% ADR:', 214.2, 80, '#f4f4f4']];
const wsNotes = [['yClose', 221.6, 629.5, '#f0a020'], ['38.2% ADR:', 214.2, 618, '#f4f4f4'], ['order BUY', 214.4, 537, '#14e014'], ['Open', 216, 508, '#f4f4f4'], ['order SELL', 214.2, 480, '#ff60a0'], ['yLow', 222.2, 460, '#10a8f0'], ['38.2% ADR:', 214.2, 399, '#f4f4f4']];

const watchList = ['GBPAUD', 'GBPNZD', 'XAUUSD', 'HK50', 'WS30', 'DAX30'];
const periods = ['M1', 'M5', '15', '30', 'H1', 'H4'];
const clocks = [['HONG KONG  00:14', '#9b2020', 137], ['LONDON   16:14', '#0a70d0', 113], ['NEW YORK  11:14', '#0a70d0', 127]];

const hkPanel = {
  name: 'HK50', chartName: 'HK50,M5', last: 236.8, lastLabel: '28236.80', lastWidth: 1,
  top: 4, bottom: 840, volTop: 842.5, volBottom: 1022, axisX: 3790, yAt: [503.6, 12, 25.65, 837.6],
  times: hkTimes, axis: hkAxis, sessions: hkSessions, ribbonHigh: hkRibbonHigh, ribbonLow: hkRibbonLow, ribbonGreen: hkRibbonGreen,
  smooth: hkSmooth, bull: hkBull, flat: hkFlat, bear: hkBear,
  mas: [[hkUpperMa, hkUpperThick], [hkLowerMa, hkLowerThick]], zigzag: hkZigzag, swings: hkSwings,
  volBuy: hkVolBuy, volSell: hkVolSell, up: hkSpikesUp, down: hkSpikesDown, red: hkBlockRed, green: hkBlockGreen,
  signalY: [858, 932, 1007], levels: hkLevels, solid: hkSolid, notes: hkNotes,
  box: [53, 128, 389.5, 35], boxOpen: false, cursor: 52, dots: 53, volLabels: [850, 1016], rowY: 255, tableX: 3685,
  infoX: 3686.7, infoY: 14.3, offsetY: 0, nameLen: 51, nameX: 32.6,
  info: { price: '28237', spd: 'SPD:5.0', open: '28249', openFill: '#e878e0', pct: '57%', pctFill: '#9a9a9a', pctBg: '#3e6d8f', pctX: 29.3, pctLen: 39, bgX: 22.3, p2: '-13', p2Fill: '#e060e0', hilo: '354', adr: '428', share: '3%', shareFill: '#e060e0', shareX: 40, shareLen: 28 },
  active: 'HK50'
};
const wsPanel = {
  name: 'WS30', chartName: 'WS30,M5', last: 583.31, lastLabel: '28583.31', lastWidth: 2,
  top: 1050, bottom: 1887, volTop: 1889, volBottom: 2070, axisX: 3786.7, yAt: [643, 1058.8, 381.7, 1884],
  times: wsTimes, axis: wsAxis, sessions: wsSessions, ribbonHigh: wsRibbonHigh, ribbonLow: wsRibbonLow, ribbonGreen: wsRibbonGreen,
  smooth: wsSmooth, bull: wsBull, flat: wsFlat, bear: wsBear,
  mas: [[wsUpperMa, wsUpperThick], [wsLowerMa, wsLowerThick]], zigzag: wsZigzag, swings: wsSwings,
  volBuy: wsVolBuy, volSell: wsVolSell, up: wsSpikesUp, down: wsSpikesDown, red: wsBlockRed, green: wsBlockGreen,
  signalY: [1904, 1979, 2055], levels: wsLevels, solid: wsSolid, notes: wsNotes,
  box: [113, 229.3, 584.6, 387], boxOpen: true, cursor: 4, dots: 5, volLabels: [1896, 2062], rowY: 1300.7, tableX: 3680.7,
  infoX: 3682.7, infoY: 1060.3, offsetY: 1047, nameLen: 57, nameX: 26.7,
  info: { price: '28583', spd: 'SPD:1.6', open: '28512', openFill: '#10f010', pct: '100%', pctFill: '#10e010', pctBg: '#0a7a0a', pctX: 16.3, pctLen: 51, bgX: 16.3, p2: '72', p2Fill: '#10f010', hilo: '197', adr: '287', share: '25%', shareFill: '#10f010', shareX: 28.3, shareLen: 39 },
  active: 'WS30'
};

const GREY = '#59666f';
const SESSION_FILL = { b: '#3f5178', g: GREY, r: '#7a3e53' };
const DARK = '#23282c';
const MONO = '"DejaVu Sans Mono", monospace';
const SANS = '"DejaVu Sans", sans-serif';
const ARIAL = '"Liberation Sans", Arial, sans-serif';

const drawPanel = (svg, p, index) => {
  const x = d3.scaleLinear().domain([0, 1]).range([4.3, 20.3]);
  const yFull = d3.scaleLinear().domain([p.yAt[0] + BASE, p.yAt[2] + BASE]).range([p.yAt[1], p.yAt[3]]);
  const y = v => yFull(v + BASE);
  const root = svg.append('g');
  const clipId = 'main-' + index;
  root.append('clipPath').attr('id', clipId).append('rect')
    .attr('x', 4).attr('y', p.top).attr('width', p.axisX - 4).attr('height', p.bottom - p.top);
  const g = root.append('g').attr('clip-path', `url(#${clipId})`);

  g.selectAll('rect.session').data(p.sessions).join('rect').attr('class', 'session')
    .attr('x', d => x(d[0])).attr('width', d => x(d[1]) - x(d[0]))
    .attr('y', p.top).attr('height', p.bottom - p.top)
    .attr('fill', d => SESSION_FILL[d[2]]);

  // levels and their names sit under everything else
  const plain = p.levels.filter(l => l[1]);
  g.selectAll('line.level').data(plain).join('line').attr('class', 'level')
    .attr('x1', x(0)).attr('x2', x(211)).attr('y1', d => y(d[0])).attr('y2', d => y(d[0]))
    .attr('stroke', d => d[1]).attr('stroke-width', 1.3).attr('stroke-dasharray', '18 6');
  g.selectAll('line.solid').data(p.solid).join('line').attr('class', 'solid')
    .attr('x1', d => x(d[1])).attr('x2', d => x(d[2])).attr('y1', d => y(d[0])).attr('y2', d => y(d[0]))
    .attr('stroke', d => d[3]).attr('stroke-width', 4);
  p.levels.filter(l => l[2]).forEach(l => {
    const big = !l[1];
    const ty = y(l[0]) + (big ? 14.5 : 11);
    g.append('text').attr('x', x(big ? 186.8 : 187)).attr('y', ty).attr('dy', '0.35em')
      .attr('font-family', MONO).attr('font-size', big ? 15 : 13).attr('font-weight', big ? 'bold' : 'normal')
      .attr('stroke', l[3]).attr('stroke-width', 0.3)
      .attr('textLength', big ? 43 : 40).attr('lengthAdjust', 'spacingAndGlyphs')
      .attr('fill', l[3]).text(l[2]);
    g.append('text').attr('x', x(big ? 190.2 : 190.5)).attr('y', ty).attr('dy', '0.35em')
      .attr('font-family', MONO).attr('font-size', big ? 16 : 13).attr('font-weight', big ? 'bold' : 'normal')
      .attr('stroke', l[4]).attr('stroke-width', 0.3)
      .attr('textLength', big ? 54 : 40).attr('lengthAdjust', 'spacingAndGlyphs')
      .attr('fill', l[4]).text(String(BASE + l[0]));
  });

  const pathLine = d3.line().x(d => x(d[0])).y(d => y(d[1]));
  g.append('path').attr('d', pathLine(p.zigzag)).attr('fill', 'none').attr('stroke', '#28502c').attr('stroke-width', 8.5);

  const drawCandles = (rows, color) => {
    const c = g.append('g');
    c.selectAll('line').data(rows).join('line')
      .attr('x1', d => x(d[0])).attr('x2', d => x(d[0]))
      .attr('y1', d => y(d[1])).attr('y2', d => y(d[4]))
      .attr('stroke', color).attr('stroke-width', 2.5);
    c.selectAll('rect').data(rows).join('rect')
      .attr('x', d => x(d[0]) - 6).attr('width', 12)
      .attr('y', d => y(d[2])).attr('height', d => Math.max(1.5, y(d[3]) - y(d[2])))
      .attr('fill', color);
  };
  drawCandles(p.bull, '#5b9dc9');
  drawCandles(p.flat, '#1f2326');
  drawCandles(p.bear, '#fc8deb');

  const maLine = d3.line().x(d => x(d[0])).y(d => y(d[1])).curve(d3.curveMonotoneX);
  p.mas.forEach(([points, thick]) => {
    g.append('path').attr('d', maLine(points)).attr('fill', 'none').attr('stroke', DARK).attr('stroke-width', 3);
    thick.forEach(([a, b]) => {
      g.append('path').attr('d', maLine(points.filter(d => d[0] >= a && d[0] <= b)))
        .attr('fill', 'none').attr('stroke', DARK).attr('stroke-width', 16).attr('stroke-linecap', 'round');
    });
  });

  const isGreen = i => p.ribbonGreen.some(r => i >= r[0] && i <= r[1]);
  g.selectAll('rect.ribbon').data(p.ribbonHigh).join('rect').attr('class', 'ribbon')
    .attr('x', (d, i) => x(i) - 7).attr('width', 14)
    .attr('y', d => y(d)).attr('height', (d, i) => y(p.ribbonLow[i]) - y(d))
    .attr('fill', (d, i) => (isGreen(i) ? '#1fcb66' : '#c9843e'));

  // pattern box, cursor lines, last price
  const [b0, b1, bTop, bBot] = p.box;
  const boxPath = `M${x(b1)},${y(bTop)}L${x(b0)},${y(bTop)}L${x(b0)},${y(bBot)}L${x(b1)},${y(bBot)}` + (p.boxOpen ? '' : 'Z');
  g.append('path').attr('d', boxPath).attr('fill', 'none').attr('stroke', '#1f2a30').attr('stroke-width', 4);
  g.append('line').attr('x1', x(p.cursor)).attr('x2', x(p.cursor)).attr('y1', p.top).attr('y2', p.bottom)
    .attr('stroke', '#1f2a30').attr('stroke-width', 3.5);
  g.append('line').attr('x1', x(p.dots)).attr('x2', x(p.dots)).attr('y1', p.top).attr('y2', p.bottom)
    .attr('stroke', '#f4c8e8').attr('stroke-width', 1).attr('stroke-dasharray', '3 3');
  g.append('line').attr('x1', x(0)).attr('x2', x(229.5)).attr('y1', y(p.last)).attr('y2', y(p.last))
    .attr('stroke', '#f0f0f0').attr('stroke-width', p.lastWidth);

  g.append('path').attr('d', pathLine(p.smooth.map((v, i) => [i, v])))
    .attr('fill', 'none').attr('stroke', '#ffffff').attr('stroke-width', 2.6);

  p.swings.forEach(([bar, price, kind]) => {
    if (kind === 'w') {
      g.append('circle').attr('cx', x(bar)).attr('cy', y(price)).attr('r', 9.5).attr('fill', '#ffffff');
    } else {
      g.append('circle').attr('cx', x(bar)).attr('cy', y(price)).attr('r', 11)
        .attr('fill', '#ffffff').attr('stroke', kind === 'g' ? '#7ec850' : '#e03020').attr('stroke-width', 7);
    }
  });

  p.notes.forEach(([text, bar, price, color]) => {
    root.append('text').attr('x', x(bar)).attr('y', y(price)).attr('dy', '0.35em').attr('clip-path', `url(#${clipId})`)
      .attr('font-family', MONO).attr('font-size', 16.3).attr('fill', color)
      .attr('stroke', color).attr('stroke-width', 0.3).text(text);
  });
  root.append('path').attr('d', d3.line()([[3404, p.top], [3414, p.top], [3409, p.top + 6]]) + 'Z').attr('fill', '#ffffff');

  // clock strip and trend badge
  const stripY = 6 + p.offsetY;
  const stripX = [80, 239, 372];
  const stripW = [156, 130, 148];
  clocks.forEach(([text, fill, len], i) => {
    root.append('rect').attr('x', stripX[i]).attr('y', stripY).attr('width', stripW[i]).attr('height', 16).attr('fill', fill);
    root.append('text').attr('x', stripX[i] + stripW[i] / 2).attr('y', stripY + 12.5).attr('text-anchor', 'middle')
      .style('white-space', 'pre').attr('textLength', len).attr('lengthAdjust', 'spacingAndGlyphs')
      .attr('font-family', SANS).attr('font-weight', 'bold').attr('font-size', 12).attr('fill', '#ffffff').text(text);
  });
  root.append('path').attr('d', d3.line()([[7, 10 + p.offsetY], [15, 10 + p.offsetY], [11, 14 + p.offsetY]]) + 'Z').attr('fill', '#ffffff');
  root.append('text').attr('x', 19).attr('y', 15 + p.offsetY).attr('font-family', ARIAL).attr('font-size', 9).attr('fill', '#e0e0e0').text(p.chartName);
  root.append('text').attr('x', 20).attr('y', 88 + (p.offsetY ? p.offsetY - 1 : 0)).attr('font-family', ARIAL).attr('font-size', 9).attr('fill', '#e8c8c8').text('BUYS only');
  const badgeY = p.bottom - 24;
  root.append('rect').attr('x', 9).attr('y', badgeY - 29).attr('width', 38).attr('height', 24).attr('fill', '#111111').attr('stroke', '#666666');
  root.append('text').attr('x', 28).attr('y', badgeY - 12).attr('text-anchor', 'middle').attr('font-family', ARIAL).attr('font-size', 14).attr('fill', '#777777').text('ON');
  root.append('rect').attr('x', 4).attr('y', badgeY).attr('width', 168).attr('height', 24).attr('fill', '#008000');
  root.append('text').attr('x', 31).attr('y', badgeY + 19).attr('font-family', ARIAL).attr('font-weight', 'bold').attr('font-size', 19)
    .attr('textLength', 114).attr('lengthAdjust', 'spacingAndGlyphs').attr('fill', '#b9b9b9').text('UP TREND');

  // volume pane
  const vol = d3.scaleLinear().domain([0, 268]).range([p.volBottom, p.volTop]);
  const v = root.append('g');
  const bars = d3.range(212).flatMap(i => {
    const pair = [[p.volBuy[i], SESSION_FILL.b], [p.volSell[i], SESSION_FILL.r]].filter(d => d[0] > 0);
    return pair.sort((a, b) => b[0] - a[0]).map(d => ({ i, h: d[0], fill: d[1] }));
  });
  v.selectAll('rect').data(bars).join('rect')
    .attr('x', d => x(d.i) - 6.5).attr('width', 13)
    .attr('y', d => vol(d.h)).attr('height', d => p.volBottom - vol(d.h))
    .attr('fill', d => d.fill);
  const sig = d3.scaleLinear().domain([1, 0, -1]).range(p.signalY);
  p.red.forEach(bar => {
    v.append('rect').attr('x', x(bar) - 6).attr('width', 12).attr('y', sig(1)).attr('height', sig(0) - sig(1)).attr('fill', '#ff0000');
  });
  p.green.forEach(bar => {
    v.append('rect').attr('x', x(bar) - 6).attr('width', 12).attr('y', sig(0)).attr('height', sig(-1) - sig(0)).attr('fill', '#00ff00');
  });
  const signal = d3.range(212).map(i => [i, p.up.includes(i) ? 1 : p.down.includes(i) ? -1 : 0]);
  v.append('path').attr('d', d3.line().x(d => x(d[0])).y(d => sig(d[1]))(signal)).attr('fill', 'none').attr('stroke', '#ffffff').attr('stroke-width', 2);
  v.append('text').attr('x', p.axisX + 3).attr('y', p.volLabels[0] + 4).attr('font-family', ARIAL).attr('font-size', 10).attr('fill', '#d8d8d8').text('47');
  v.append('text').attr('x', p.axisX + 3).attr('y', p.volLabels[1] + 4).attr('font-family', ARIAL).attr('font-size', 10).attr('fill', '#d8d8d8').text('20');

  // frames
  [[p.top - 1, p.bottom], [p.volTop, p.volBottom]].forEach(([a, b]) => {
    root.append('rect').attr('x', 4).attr('y', a).attr('width', p.axisX - 4).attr('height', b - a)
      .attr('fill', 'none').attr('stroke', '#e8e8e8').attr('stroke-width', 1.4);
  });

  // time axis
  const timeAxis = d3.axisBottom(x)
    .tickValues(p.times.map((t, i) => i * 4))
    .tickFormat((d, i) => p.times[i])
    .tickSize(3).tickSizeOuter(0);
  const ta = root.append('g').attr('transform', `translate(0,${p.volBottom})`).call(timeAxis);
  ta.select('.domain').remove();
  ta.selectAll('line').attr('stroke', '#e0e0e0');
  ta.selectAll('text').attr('text-anchor', 'start').attr('x', -1.5).attr('y', 6)
    .attr('font-family', ARIAL).attr('font-size', 10).attr('fill', '#dcdcdc');

  // price axis
  const priceAxis = d3.axisRight(yFull).tickValues(p.axis).tickFormat(d => d.toFixed(2)).tickSize(3).tickSizeOuter(0);
  const pa = root.append('g').attr('transform', `translate(${p.axisX + 2},0)`).call(priceAxis);
  pa.select('.domain').remove();
  pa.selectAll('line').attr('stroke', '#e0e0e0');
  pa.selectAll('text').attr('x', 4.5).attr('font-family', ARIAL).attr('font-size', 9.2).attr('fill', '#d8d8d8');
  root.append('rect').attr('x', p.axisX + 3).attr('y', y(p.last) - 5.5).attr('width', 41).attr('height', 11).attr('fill', '#ffffff');
  root.append('text').attr('x', p.axisX + 6).attr('y', y(p.last) + 3.5).attr('font-family', ARIAL).attr('font-size', 9.2).attr('fill', '#666666').text(p.lastLabel);

  // info card
  const info = p.info;
  const card = root.append('g').attr('transform', `translate(${p.infoX},${p.infoY})`);
  card.append('rect').attr('width', 94).attr('height', 228).attr('fill', '#1d2a38').attr('stroke', '#f0f0f0').attr('stroke-width', 1);
  card.append('rect').attr('x', info.bgX).attr('y', 134).attr('width', p.name === 'WS30' ? 57.4 : 51).attr('height', 16.7).attr('fill', info.pctBg);
  const cardRows = [
    [p.name, p.nameX, 28.7, 25, ARIAL, 'bold', '#ffffff', p.nameLen],
    [info.price, 13.3, 49.7, 20, SANS, 'bold', '#10f4f4', 69],
    [info.spd, 22.6, 65, 14.5, MONO, 'bold', '#ffffff', 62],
    ['0:18', 46, 81.7, 17, SANS, 'bold', '#10f4f4', 38],
    ['Daily Open', 9, 96.4, 13, SANS, 'bold', '#ffffff', 76],
    [info.open, 22.3, 114.4, 16, SANS, 'bold', info.openFill, 54],
    ['BidRatio', 11, 129, 14.5, MONO, 'bold', '#f4d000', 71],
    [info.pct, info.pctX, 149, 20, SANS, 'bold', info.pctFill, info.pctLen],
    ['P2Op', 11.6, 164.7, 15, ARIAL, 'normal', '#ffffff', 33],
    ['HiLo', 16.6, 180.7, 15, ARIAL, 'normal', '#999999', 28],
    ['ADR', 18.3, 196.7, 15, ARIAL, 'bold', '#ffffff', 27],
    [info.share, info.shareX, 221.7, 22, ARIAL, 'bold', info.shareFill, info.shareLen],
    ['ADR', 64, 213.4, 12, ARIAL, 'bold', '#ffffff', 23]
  ];
  cardRows.forEach(([text, tx, ty, size, family, weight, fill, len]) => {
    card.append('text').attr('x', tx).attr('y', ty).attr('font-size', size).attr('font-family', family)
      .attr('font-weight', weight).attr('fill', fill).attr('textLength', len).attr('lengthAdjust', 'spacingAndGlyphs').text(text);
  });
  [[info.p2, 164.7, info.p2Fill], [info.hilo, 180.7, '#aaaaaa'], [info.adr, 196.7, '#30c030']].forEach(([text, ty, fill]) => {
    card.append('text').attr('x', 83.3).attr('y', ty).attr('text-anchor', 'end').attr('font-size', 15)
      .attr('font-family', ARIAL).attr('font-weight', 'bold').attr('fill', fill).text(text);
  });

  // symbol switcher
  watchList.forEach((sym, i) => {
    const ry = p.rowY + i * 19;
    root.append('rect').attr('x', p.tableX).attr('y', ry).attr('width', 70).attr('height', 16).attr('fill', '#212121');
    root.append('rect').attr('x', p.tableX + 73.3).attr('y', ry).attr('width', 24.3).attr('height', 16).attr('fill', '#212121');
    root.append('text').attr('x', p.tableX + 35).attr('y', ry + 12.5).attr('text-anchor', 'middle').attr('font-family', ARIAL).attr('font-size', 13.5)
      .attr('fill', sym === p.active ? '#10e0e8' : '#dddddd').text(sym);
    root.append('text').attr('x', p.tableX + 85.4).attr('y', ry + 12.5).attr('text-anchor', 'middle').attr('font-family', ARIAL).attr('font-size', 13.5)
      .attr('fill', periods[i] === 'M5' ? '#10e0e8' : '#dddddd').text(periods[i]);
  });
};

const App = () => {
  const svgRef = useRef(null);

  useEffect(() => {
    const svg = d3.select(svgRef.current);
    svg.selectAll('*').remove();
    svg.append('rect').attr('width', 3836).attr('height', 2089).attr('fill', GREY);
    svg.append('line').attr('x1', 0).attr('x2', 3836).attr('y1', 1043).attr('y2', 1043).attr('stroke', '#c8c8c8').attr('stroke-width', 2);
    drawPanel(svg, hkPanel, 0);
    drawPanel(svg, wsPanel, 1);
  }, []);

  return (
    <svg ref={svgRef} width={3836} height={2089} style={{ position: 'fixed', left: 0, top: 0 }}></svg>
  );
};

export default App;
